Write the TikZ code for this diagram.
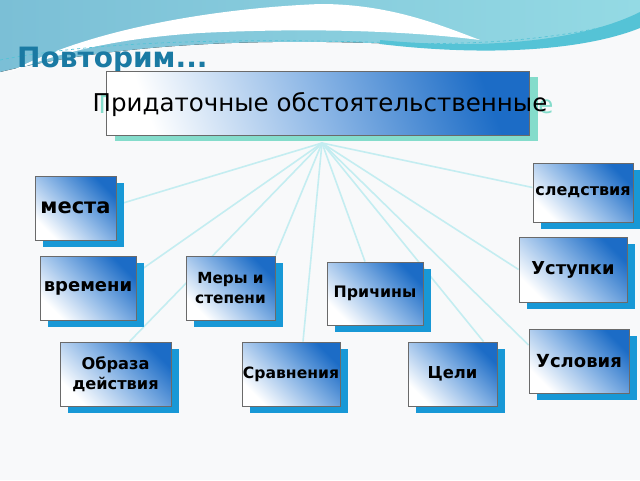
\documentclass[tikz,border=0pt]{standalone}
\usepackage{fontspec}
\setmainfont{DejaVu Sans}
\usetikzlibrary{shadows,calc}
\definecolor{bgc}{HTML}{F8F9FA}
\definecolor{skyL}{HTML}{7BBFD6}
\definecolor{skyR}{HTML}{94DAE4}
\definecolor{stripc}{HTML}{55C3D6}
\definecolor{titlec}{HTML}{1A7AA3}
\definecolor{boxblue}{HTML}{1C6CC6}
\definecolor{boxmid}{HTML}{8DB7E6}
\definecolor{boxborder}{HTML}{6A6A6A}
\definecolor{shadowblue}{HTML}{1898D6}
\definecolor{shadowteal}{HTML}{84DCCB}
\definecolor{linec}{HTML}{C4EDF1}
\pgfdeclarelayer{back}
\pgfdeclarelayer{lines}
\pgfsetlayers{back,lines,main}
\tikzset{
  box/.style={draw=boxborder, line width=0.9pt, top color=boxblue, bottom color=white,
    middle color=boxmid, shading angle=-45, inner sep=0pt, align=center,
    font=\bfseries, text=black,
    general shadow={fill=shadowblue, shadow xshift=8pt, shadow yshift=-7pt}},
  mainbox/.style={draw=boxborder, line width=0.9pt, top color=boxblue, bottom color=white,
    middle color=boxmid, shading angle=-70, inner sep=0pt,
    general shadow={fill=shadowteal, shadow xshift=9pt, shadow yshift=-6pt}},
  conn/.style={draw=linec, line width=1.6pt}
}
\begin{document}
\begin{tikzpicture}[x=1pt,y=-1pt]
\useasboundingbox (0,0) rectangle (640,480);
\begin{pgfonlayer}{back}
\fill[bgc] (0,0) rectangle (640,480);
\fill[left color=skyL, right color=skyR] (0,0) -- (640,0) -- (640,15)
  .. controls (600,40) and (520,50) .. (440,46)
  .. controls (330,40) and (150,35) .. (0,72) -- cycle;
\fill[stripc] (380,40) .. controls (480,50) and (580,42) .. (640,12) -- (640,28)
  .. controls (580,52) and (480,56) .. (380,44) -- cycle;
\fill[white] (10,72) .. controls (90,28) and (220,8) .. (320,4)
  .. controls (390,4) and (440,25) .. (480,40)
  .. controls (400,30) and (300,28) .. (200,33)
  .. controls (120,38) and (60,52) .. cycle;
\draw[dashed, stripc, line width=0.7pt] (0,60) .. controls (100,40) and (250,38) .. (400,43)
  .. controls (500,46) and (580,35) .. (640,18);
\end{pgfonlayer}

\node[anchor=base west, font=\bfseries\fontsize{28}{30}\selectfont, text=titlec, inner sep=0pt] (title) at (17,67) {Повторим...};

\node[font=\fontsize{24.5}{26}\selectfont, text=shadowteal, inner sep=0pt] (ghost) at (326,107) {Придаточные обстоятельственные};
\node[mainbox, minimum width=423pt, minimum height=64pt] (main) at (317.5,103) {};
\node[font=\fontsize{24.5}{26}\selectfont, inner sep=0pt] (maintext) at (320,105) {Придаточные обстоятельственные};

\coordinate (hub) at (322,143);

\node[box, minimum width=81pt, minimum height=64pt, font=\bfseries\fontsize{21}{24}\selectfont] (mesta) at (75.5,208) {места};
\node[box, minimum width=96pt, minimum height=64pt, font=\bfseries\fontsize{18}{20}\selectfont] (vrem) at (88,288) {времени};
\node[box, minimum width=89pt, minimum height=64pt, font=\bfseries\fontsize{15.3}{20}\selectfont] (mery) at (230.5,288) {Меры и\\степени};
\node[box, minimum width=96pt, minimum height=63pt, font=\bfseries\fontsize{15.8}{18}\selectfont] (prich) at (375,293.5) {Причины};
\node[box, minimum width=100pt, minimum height=59pt, font=\bfseries\fontsize{16}{18}\selectfont] (sled) at (583,192.5) {следствия};
\node[box, minimum width=108pt, minimum height=65pt, font=\bfseries\fontsize{17.8}{20}\selectfont] (ust) at (573,269.5) {Уступки};
\node[box, minimum width=111pt, minimum height=64pt, font=\bfseries\fontsize{16.2}{20}\selectfont] (obraz) at (115.5,374) {Образа\\действия};
\node[box, minimum width=98pt, minimum height=64pt, font=\bfseries\fontsize{15.6}{18}\selectfont] (sravn) at (291,374) {Сравнения};
\node[box, minimum width=89pt, minimum height=64pt, font=\bfseries\fontsize{16.4}{18}\selectfont] (celi) at (452.5,374) {Цели};
\node[box, minimum width=100pt, minimum height=64pt, font=\bfseries\fontsize{18}{20}\selectfont] (usl) at (579,361) {Условия};

\begin{pgfonlayer}{lines}
\draw[conn] (hub) -- ($(mesta.east)+(0,-3)$);
\draw[conn] (hub) -- ($(vrem.east)+(0,-15)$);
\draw[conn] (hub) -- (mery.north east);
\draw[conn] (hub) -- ($(obraz.north)+(14,0)$);
\draw[conn] (hub) -- ($(sravn.north)+(12,0)$);
\draw[conn] (hub) -- ($(prich.north)+(-10,0)$);
\draw[conn] (hub) -- ($(celi.north)+(31,0)$);
\draw[conn] (hub) -- ($(usl.west)+(0,-16)$);
\draw[conn] (hub) -- (ust.west);
\draw[conn] (hub) -- ($(sled.west)+(0,-5)$);
\end{pgfonlayer}
\end{tikzpicture}
\end{document}
